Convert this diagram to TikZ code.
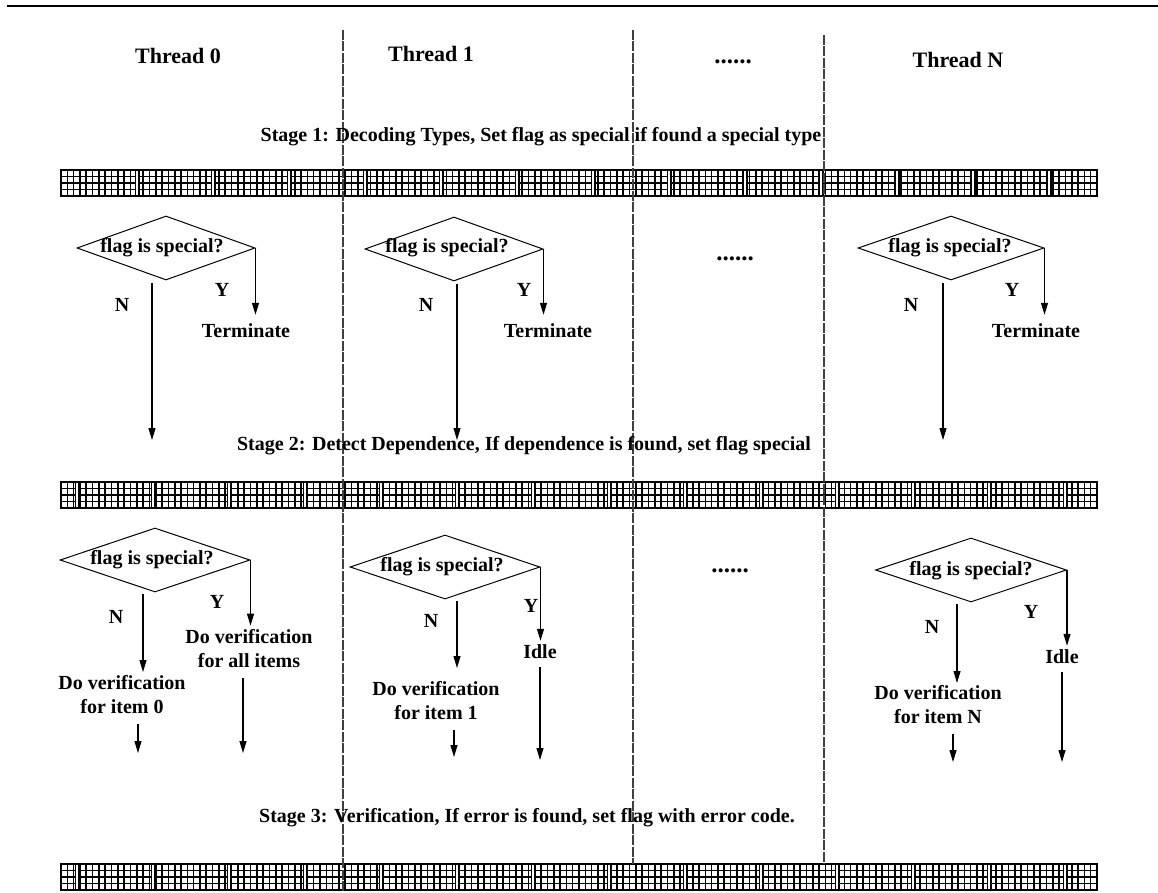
\documentclass[tikz,border=0pt]{standalone}
\usepackage{fontspec}
\setmainfont{Liberation Serif}
\usetikzlibrary{shapes.geometric,arrows.meta,calc}

% Synchronisation barrier: a hatched band split into blocks
% #1 = top edge, #2 = first block joint, #3 = last joint index
\newcommand\barrierband[3]{%
  \fill[white] (61,#1) rectangle (1097,#1+26);
  \draw[gridln] \foreach \j in {0,...,4} {(61,#1+\j*6.5) -- (1097,#1+\j*6.5)};
  \draw[gridln] \foreach \k in {0,...,164} {(61+\k*6.317,#1) -- (61+\k*6.317,#1+26)};
  \foreach \m in {0,...,#3} {
    \pgfmathsetmacro\gx{#2+76*\m}
    \draw[gridln] (\gx-1.7,#1) -- ++(0,26) (\gx+1.7,#1) -- ++(0,26);
    \draw[white,line width=1.4pt] (\gx,#1+1) -- (\gx,#1+25);
  }
  \draw[line width=1.8pt] (61,#1) rectangle (1097,#1+26);
}

\begin{document}
\begin{tikzpicture}[x=1pt,y=-1pt,
  every node/.style={font=\fontsize{20}{24}\selectfont\bfseries, inner sep=0pt},
  head/.style={font=\fontsize{22}{26}\selectfont\bfseries},
  ellip/.style={font=\fontsize{25}{28}\selectfont\bfseries, anchor=base},
  decision/.style={diamond, draw, line width=1pt, minimum height=64pt, inner sep=0pt},
  conn/.style={line width=1.1pt},
  arr/.style={conn, -{Triangle[length=12pt,width=7pt]}},
  lane/.style={line width=1.3pt, black!75, dash pattern=on 10pt off 1.5pt},
  gridln/.style={line width=1.6pt, black}
]
\useasboundingbox (0,0) rectangle (1158,893);

% top rule
\draw[line width=2.4pt] (7,6) -- (1158,6);

% barriers between the stages
\barrierband{170}{137}{12}
\barrierband{482}{77}{13}
\barrierband{864}{77}{13}

% thread lanes
\coordinate (l1t) at (343,30);  \coordinate (l1b) at (343,893);
\coordinate (l2t) at (633,30);  \coordinate (l2b) at (633,864);
\coordinate (l3t) at (824,35);  \coordinate (l3b) at (824,864);
\draw[lane] (l1t) -- (l1b);
\draw[lane] (l2t) -- (l2b);
\draw[lane] (l3t) -- (l3b);

% thread headers
\node[head] (h0) at (178,56) {Thread 0};
\node[head] (h1) at (431,54) {Thread 1};
\node[ellip] (hd) at (733,64) {......};
\node[head] (hn) at (958,60) {Thread N};

% stage captions
\node (s1) at (541,137) {Stage 1: Decoding Types, Set flag as special if found a special type};
\node (s2) at (524,446) {Stage 2: Detect Dependence, If dependence is found, set flag special};
\node (s3) at (527,818) {Stage 3: Verification, If error is found, set flag with error code.};

% ---------- stage 1 checks ----------
\node[decision, minimum width=178pt] (d10) at (166,248) {};
\node[decision, minimum width=178pt] (d11) at (454,249) {};
\node[decision, minimum width=186pt] (d1n) at (951,248) {};
\node (q10) at (162,248) {flag is special?};
\node (q11) at (447,248) {flag is special?};
\node (q1n) at (950,248) {flag is special?};
\node[ellip] (dots1) at (735,261) {......};

\node (n10) at (122,305) {N};  \node (y10) at (222,290) {Y};
\node (n11) at (426,305) {N};  \node (y11) at (524,290) {Y};
\node (n1n) at (911,305) {N};  \node (y1n) at (1012,290) {Y};

\node (t10) at (246,331) {Terminate};
\node (t11) at (548,331) {Terminate};
\node (t1n) at (1036,331) {Terminate};

\coordinate (e10) at (152,440);
\coordinate (e11) at (457,440);
\coordinate (e1n) at (943,440);

\draw[arr] (d10.east) -- ($(d10.east |- t10.north)+(0,-9)$);
\draw[arr] (d11.east) -- ($(d11.east |- t11.north)+(0,-9)$);
\draw[arr] (d1n.east) -- ($(d1n.east |- t1n.north)+(0,-9)$);
\draw[arr] ($(d10.south -| e10)+(0,2)$) -- (e10);
\draw[arr] ($(d11.south -| e11)+(0,2)$) -- (e11);
\draw[arr] ($(d1n.south -| e1n)+(0,2)$) -- (e1n);

% ---------- stage 2 checks ----------
\node[decision, minimum width=190pt] (d20) at (155,560) {};
\node[decision, minimum width=190pt] (d21) at (445,567) {};
\node[decision, minimum width=191pt] (d2n) at (971,570) {};
\node (q20) at (152,560) {flag is special?};
\node (q21) at (442,567) {flag is special?};
\node (q2n) at (971,571) {flag is special?};
\node[ellip] (dots2) at (730,572) {......};

\node (n20) at (116,617) {N};  \node (y20) at (217,602) {Y};
\node (n21) at (431,621) {N};  \node (y21) at (531,606) {Y};
\node (n2n) at (932,627) {N};  \node (y2n) at (1031,612) {Y};

\node[align=center] (v20) at (122,695) {Do verification\\for item 0};
\node[align=center] (w20) at (249,649) {Do verification\\for all items};
\node[align=center] (v21) at (436,701) {Do verification\\for item 1};
\node (w21) at (540,652) {Idle};
\node[align=center] (v2n) at (938,705) {Do verification\\for item N};
\node (w2n) at (1062,657) {Idle};

% N branches: into the per-item verification
\coordinate (a20) at (143,672);
\coordinate (a21) at (457,668);
\coordinate (a2n) at (957,683);
\draw[arr] ($(d20.south -| a20)+(0,1)$) -- (a20);
\draw[arr] ($(d21.south -| a21)+(0,1)$) -- (a21);
\draw[arr] ($(d2n.south -| a2n)+(0,1)$) -- (a2n);

% Y branches
\draw[arr] (d20.east) -- ($(d20.east |- w20.north)+(0,-4)$);
\draw[arr] (d21.east) -- ($(d21.east |- w21.north)+(0,-4)$);
\draw[arr] (d2n.east) -- ($(d2n.east |- w2n.north)+(0,-4)$);

% on to the next barrier
\coordinate (c20) at (138,753);  \coordinate (f20) at (243,753);
\coordinate (c21) at (454,757);  \coordinate (f21) at (540,760);
\coordinate (c2n) at (953,762);  \coordinate (f2n) at (1062,762);
\draw[arr] ($(v20.south -| c20)+(0,10)$) -- (c20);
\draw[arr] ($(w20.south -| f20)+(0,10)$) -- (f20);
\draw[arr] ($(v21.south -| c21)+(0,10)$) -- (c21);
\draw[arr] ($(w21.south -| f21)+(0,8)$) -- (f21);
\draw[arr] ($(v2n.south -| c2n)+(0,10)$) -- (c2n);
\draw[arr] ($(w2n.south -| f2n)+(0,8)$) -- (f2n);
\end{tikzpicture}
\end{document}
